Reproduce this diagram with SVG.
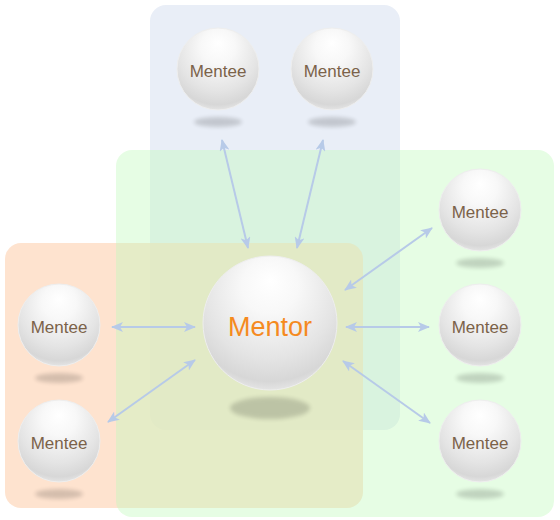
<svg xmlns="http://www.w3.org/2000/svg" width="560" height="520" viewBox="0 0 560 520">
<defs>
<radialGradient id="sphere" cx="0.5" cy="0.32" r="0.7" fx="0.5" fy="0.18">
<stop offset="0" stop-color="#ffffff"/>
<stop offset="0.3" stop-color="#f8f8f8"/>
<stop offset="0.7" stop-color="#e4e4e4"/>
<stop offset="0.9" stop-color="#d7d7d7"/>
<stop offset="1" stop-color="#e8e8e8"/>
</radialGradient>
<filter id="blur" x="-50%" y="-100%" width="200%" height="300%"><feGaussianBlur stdDeviation="2"/></filter>
<marker id="ah" viewBox="0 0 12 10" refX="11" refY="5" markerWidth="12" markerHeight="10" markerUnits="userSpaceOnUse" orient="auto-start-reverse">
<path d="M0,0 L12,5 L0,10 L3,5 Z" fill="#b7cae8"/>
</marker>
</defs>
<style>
.mentee text{font-family:"Liberation Sans",Arial,sans-serif;font-size:17px;fill:#7b6249;text-anchor:middle}
.ball{fill:url(#sphere);stroke:#eeeeee;stroke-width:1}
.shadow{fill:#000;opacity:0.16;filter:url(#blur)}
.conn line{stroke:#b7cae8;stroke-width:2;marker-start:url(#ah);marker-end:url(#ah)}
</style>
<g id="groups">
<rect id="group-top" x="150" y="5" width="250" height="425" rx="16" fill="#e9eef7"/>
<rect id="group-left" x="5" y="243" width="358" height="265" rx="16" fill="#fdd9bf" opacity="0.75"/>
<rect id="group-right" x="116" y="150" width="438" height="367" rx="16" fill="#c0fabb" opacity="0.4"/>
</g>
<g class="conn" id="connectors">
<line x1="248" y1="248" x2="222" y2="140"/>
<line x1="297" y1="248" x2="323" y2="140"/>
<line x1="345" y1="290" x2="432" y2="228"/>
<line x1="346" y1="327" x2="429" y2="327"/>
<line x1="343" y1="361" x2="430" y2="423"/>
<line x1="195" y1="327" x2="112" y2="327"/>
<line x1="195" y1="360" x2="108" y2="422"/>
</g>
<g id="mentor">
<ellipse class="shadow" cx="270" cy="408" rx="40" ry="11"/>
<circle class="ball" cx="270" cy="323" r="67"/>
<text x="270" y="336" font-family="'Liberation Sans',Arial,sans-serif" font-size="27" fill="#f58a1f" text-anchor="middle">Mentor</text>
</g>
<g id="mentee-top-1" class="mentee"><ellipse class="shadow" cx="218" cy="122" rx="24" ry="5"/><circle class="ball" cx="218" cy="69" r="41"/><text x="218" y="77">Mentee</text></g>
<g id="mentee-top-2" class="mentee"><ellipse class="shadow" cx="332" cy="122" rx="24" ry="5"/><circle class="ball" cx="332" cy="69" r="41"/><text x="332" y="77">Mentee</text></g>
<g id="mentee-right-1" class="mentee"><ellipse class="shadow" cx="480" cy="263" rx="24" ry="5"/><circle class="ball" cx="480" cy="210" r="41"/><text x="480" y="218">Mentee</text></g>
<g id="mentee-right-2" class="mentee"><ellipse class="shadow" cx="480" cy="378" rx="24" ry="5"/><circle class="ball" cx="480" cy="325" r="41"/><text x="480" y="333">Mentee</text></g>
<g id="mentee-right-3" class="mentee"><ellipse class="shadow" cx="480" cy="494" rx="24" ry="5"/><circle class="ball" cx="480" cy="441" r="41"/><text x="480" y="449">Mentee</text></g>
<g id="mentee-left-1" class="mentee"><ellipse class="shadow" cx="59" cy="378" rx="24" ry="5"/><circle class="ball" cx="59" cy="325" r="41"/><text x="59" y="333">Mentee</text></g>
<g id="mentee-left-2" class="mentee"><ellipse class="shadow" cx="59" cy="494" rx="24" ry="5"/><circle class="ball" cx="59" cy="441" r="41"/><text x="59" y="449">Mentee</text></g>
</svg>
